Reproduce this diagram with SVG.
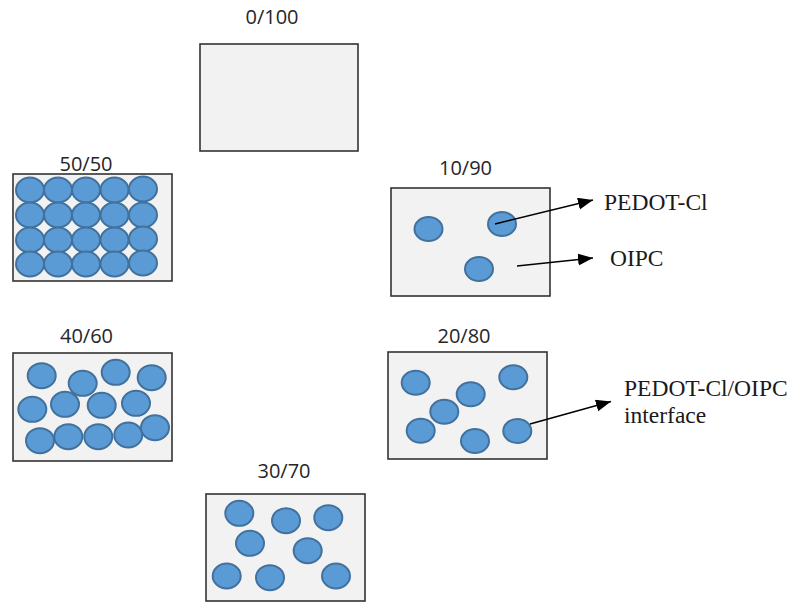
<svg xmlns="http://www.w3.org/2000/svg" width="793" height="603" viewBox="0 0 793 603">
<defs>
<style>
.box{fill:#F2F2F2;stroke:#333333;stroke-width:1.6}
.p{fill:#5B9BD5;stroke:#41719C;stroke-width:2}
.lbl{font-family:"Open Sans","DejaVu Sans",sans-serif;font-size:20px;fill:#262626;text-anchor:middle}
.ann{font-family:"Liberation Serif","Times New Roman",serif;font-size:23.5px;fill:#1a1a1a}
.arr{stroke:#000;stroke-width:1.5;fill:none;marker-end:url(#ah)}
</style>
<marker id="ah" markerUnits="userSpaceOnUse" markerWidth="16" markerHeight="13" refX="15" refY="6" orient="auto">
<path d="M0,0 L15,6 L0,12 z" fill="#000"/>
</marker>
</defs>
<rect width="793" height="603" fill="#ffffff"/>

<g id="n0_100">
<text class="lbl" x="272" y="24">0/100</text>
<rect class="box" x="200" y="44" width="158" height="107"/>
</g>

<g id="n50_50">
<text class="lbl" x="86" y="171">50/50</text>
<rect class="box" x="13" y="174" width="159" height="107"/>
<g>
<ellipse class="p" cx="30" cy="190" rx="14" ry="12.5"/>
<ellipse class="p" cx="58" cy="190" rx="14" ry="12.5"/>
<ellipse class="p" cx="86" cy="190" rx="14" ry="12.5"/>
<ellipse class="p" cx="114.5" cy="190" rx="14" ry="12.5"/>
<ellipse class="p" cx="143" cy="189" rx="14" ry="12.5"/>
<ellipse class="p" cx="30" cy="215" rx="14" ry="12.5"/>
<ellipse class="p" cx="58" cy="215" rx="14" ry="12.5"/>
<ellipse class="p" cx="86" cy="215" rx="14" ry="12.5"/>
<ellipse class="p" cx="114.5" cy="215" rx="14" ry="12.5"/>
<ellipse class="p" cx="143" cy="215" rx="14" ry="12.5"/>
<ellipse class="p" cx="30" cy="240" rx="14" ry="12.5"/>
<ellipse class="p" cx="58" cy="240" rx="14" ry="12.5"/>
<ellipse class="p" cx="86" cy="240" rx="14" ry="12.5"/>
<ellipse class="p" cx="114.5" cy="240" rx="14" ry="12.5"/>
<ellipse class="p" cx="143" cy="239" rx="14" ry="12.5"/>
<ellipse class="p" cx="30" cy="264" rx="14" ry="12.5"/>
<ellipse class="p" cx="58" cy="264" rx="14" ry="12.5"/>
<ellipse class="p" cx="86" cy="264" rx="14" ry="12.5"/>
<ellipse class="p" cx="114.5" cy="264" rx="14" ry="12.5"/>
<ellipse class="p" cx="143" cy="263" rx="14" ry="12.5"/>
</g>
</g>

<g id="n10_90">
<text class="lbl" x="465.5" y="175">10/90</text>
<rect class="box" x="391" y="188" width="159" height="108"/>
<ellipse class="p" cx="428.5" cy="229" rx="14" ry="12"/>
<ellipse class="p" cx="502" cy="224" rx="14" ry="12"/>
<ellipse class="p" cx="479" cy="269" rx="14" ry="12"/>
</g>

<g id="n40_60">
<text class="lbl" x="86.5" y="343">40/60</text>
<rect class="box" x="13" y="353" width="159" height="108"/>
<ellipse class="p" cx="41.7" cy="375.7" rx="14" ry="12.5"/>
<ellipse class="p" cx="82.7" cy="383.3" rx="14" ry="12.5"/>
<ellipse class="p" cx="115.7" cy="372.3" rx="14" ry="12.5"/>
<ellipse class="p" cx="151.7" cy="377.7" rx="14" ry="12.5"/>
<ellipse class="p" cx="32.3" cy="409.3" rx="14" ry="12.5"/>
<ellipse class="p" cx="65" cy="404.3" rx="14" ry="12.5"/>
<ellipse class="p" cx="101.7" cy="405.3" rx="14" ry="12.5"/>
<ellipse class="p" cx="136" cy="403.3" rx="14" ry="12.5"/>
<ellipse class="p" cx="40" cy="440.7" rx="14" ry="12.5"/>
<ellipse class="p" cx="68.3" cy="436.7" rx="14" ry="12.5"/>
<ellipse class="p" cx="98.3" cy="436.7" rx="14" ry="12.5"/>
<ellipse class="p" cx="128.3" cy="435" rx="14" ry="12.5"/>
<ellipse class="p" cx="155" cy="427.7" rx="14" ry="12.5"/>
</g>

<g id="n20_80">
<text class="lbl" x="464" y="343">20/80</text>
<rect class="box" x="388" y="352" width="159" height="107"/>
<ellipse class="p" cx="415.7" cy="382.7" rx="14" ry="12"/>
<ellipse class="p" cx="513.3" cy="377.3" rx="14" ry="12"/>
<ellipse class="p" cx="470.7" cy="394.3" rx="14" ry="12"/>
<ellipse class="p" cx="444.3" cy="411.7" rx="14" ry="12"/>
<ellipse class="p" cx="420.7" cy="430.7" rx="14" ry="12"/>
<ellipse class="p" cx="475" cy="441" rx="14" ry="12"/>
<ellipse class="p" cx="517.3" cy="431" rx="14" ry="12"/>
</g>

<g id="n30_70">
<text class="lbl" x="284" y="478">30/70</text>
<rect class="box" x="206" y="494" width="159" height="107"/>
<ellipse class="p" cx="239.3" cy="513.3" rx="14" ry="12.5"/>
<ellipse class="p" cx="286" cy="520.7" rx="14" ry="12.5"/>
<ellipse class="p" cx="328.3" cy="517.7" rx="14" ry="12.5"/>
<ellipse class="p" cx="250" cy="543.3" rx="14" ry="12.5"/>
<ellipse class="p" cx="307.7" cy="550.7" rx="14" ry="12.5"/>
<ellipse class="p" cx="226.7" cy="576" rx="14" ry="12.5"/>
<ellipse class="p" cx="270" cy="577.7" rx="14" ry="12.5"/>
<ellipse class="p" cx="336" cy="576" rx="14" ry="12.5"/>
</g>

<g id="connectors">
<line class="arr" x1="495" y1="224" x2="593" y2="200"/>
<line class="arr" x1="517" y1="266" x2="593" y2="258"/>
<line class="arr" x1="530" y1="424" x2="611" y2="401.5"/>
</g>

<g id="annotations">
<text class="ann" x="604" y="209.5">PEDOT-Cl</text>
<text class="ann" x="610" y="266">OIPC</text>
<text class="ann" x="624" y="396">PEDOT-Cl/OIPC</text>
<text class="ann" x="624" y="423">interface</text>
</g>
</svg>
